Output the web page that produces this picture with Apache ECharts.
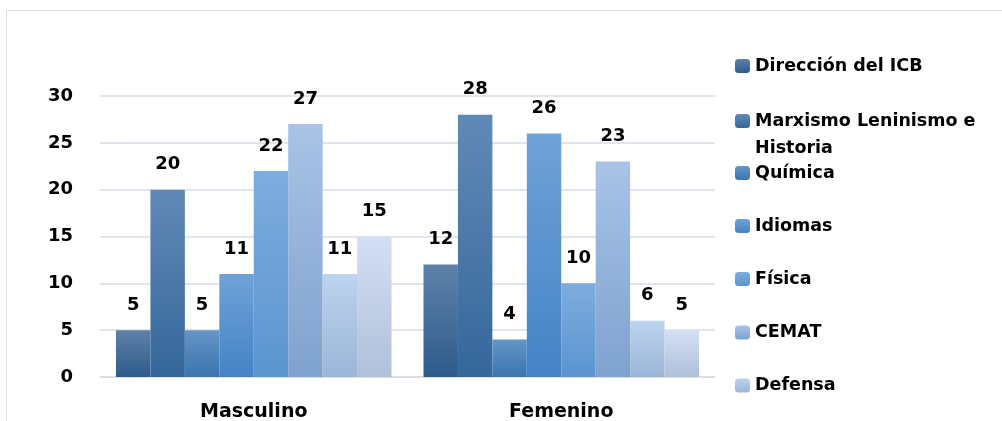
<!DOCTYPE html>
<html>
<head>
<meta charset="utf-8">
<script src="https://cdn.jsdelivr.net/npm/echarts@6/dist/echarts.min.js"></script>
<style>
  html, body { margin: 0; padding: 0; background: #fff; }
  #chart { width: 1002px; height: 421px; }
</style>
</head>
<body>
<div id="chart"></div>
<script>
// Categories on the x axis
const categories = ['Masculino', 'Femenino'];

// One series per department: [Masculino, Femenino]
const seriesNames = [
  'Dirección del ICB',
  'Marxismo Leninismo e Historia',
  'Química',
  'Idiomas',
  'Física',
  'CEMAT',
  'Defensa',
  'Otras áreas'
];
const direccionICB = [5, 12];
const marxismo     = [20, 28];
const quimica      = [5, 4];
const idiomas      = [11, 26];
const fisica       = [22, 10];
const cemat        = [27, 23];
const defensa      = [11, 6];
const otras        = [15, 5];
const seriesValues = [direccionICB, marxismo, quimica, idiomas, fisica, cemat, defensa, otras];

// Y axis ticks
const yTicks = [0, 5, 10, 15, 20, 25, 30];

// Gradient colours per series, top -> bottom
const barColors = [
  ['#5f81a9', '#2d5b8b'],
  ['#6189b6', '#35679b'],
  ['#6595c6', '#3a75b0'],
  ['#6fa2d7', '#4483c6'],
  ['#7eacdf', '#5b95cf'],
  ['#a8c3e6', '#7fa2cf'],
  ['#bdd3ee', '#9bb6d8'],
  ['#d3dff4', '#b0c0da']
];

// Vertical centre of each legend entry (first 7 series)
const legendCenters = [66, 121, 173, 226, 279, 332.5, 385.5];
// The long legend name wraps after this many words
const wrapAfter = 3;

const FONT = '"DejaVu Sans", sans-serif';
const LEGEND_FONT = { color: '#000', fontFamily: FONT, fontWeight: 'bold', fontSize: 17.5 };

function grad(c) {
  return new echarts.graphic.LinearGradient(0, 0, 0, 1, [
    { offset: 0, color: c[0] },
    { offset: 1, color: c[1] }
  ]);
}

const series = seriesNames.map((name, i) => ({
  name: name,
  type: 'bar',
  data: seriesValues[i],
  barGap: '0%',
  barCategoryGap: '10.4%',
  itemStyle: { color: grad(barColors[i]), borderWidth: 0 },
  label: {
    show: true,
    position: 'top',
    distance: 16,
    color: '#000',
    fontFamily: FONT,
    fontWeight: 'bold',
    fontSize: 18
  }
}));

// Each legend entry is placed on its own row; long names keep only
// their first line in the entry and continue on a text line below.
const continuation = [];
const legends = legendCenters.map((c, i) => {
  const words = seriesNames[i].split(' ');
  const wraps = words.length > wrapAfter;
  if (wraps) {
    continuation.push({
      type: 'text',
      left: 755,
      top: c + 27 - 10,
      style: { text: words.slice(wrapAfter).join(' '), fill: '#000',
        font: 'bold 17.5px ' + FONT, lineHeight: 20 }
    });
  }
  return {
    data: [seriesNames[i]],
    orient: 'vertical',
    left: 735,
    top: c - 10,
    padding: 0,
    itemWidth: 15,
    itemHeight: 14,
    selectedMode: false,
    formatter: wraps ? () => words.slice(0, wrapAfter).join(' ') : '{name}',
    textStyle: Object.assign({ lineHeight: 20 }, LEGEND_FONT)
  };
});

const chart = echarts.init(document.getElementById('chart'), null, { renderer: 'canvas' });
chart.setOption({
  backgroundColor: '#fff',
  animation: false,
  graphic: [{
    type: 'rect',
    shape: { x: 6.5, y: 10.5, width: 1010, height: 430 },
    style: { fill: 'none', stroke: '#dcdfe5', lineWidth: 1 },
    z: -1
  }].concat(continuation),
  legend: legends,
  grid: {
    left: 100, right: 287, top: 96, bottom: 44,
    containLabel: false,
    outerBoundsMode: 'none'
  },
  xAxis: {
    type: 'category',
    data: categories,
    axisTick: { show: false },
    axisLine: { show: true, lineStyle: { color: '#d9dde5', width: 1.5 } },
    axisLabel: {
      margin: 26,
      color: '#000',
      fontFamily: FONT,
      fontWeight: 'bold',
      fontSize: 19
    }
  },
  yAxis: {
    type: 'value',
    min: yTicks[0],
    max: yTicks[yTicks.length - 1],
    interval: yTicks[1] - yTicks[0],
    axisLine: { show: false },
    axisTick: { show: false },
    splitLine: { lineStyle: { color: '#d9dde5', width: 1.5 } },
    axisLabel: {
      margin: 27,
      color: '#000',
      fontFamily: FONT,
      fontWeight: 'bold',
      fontSize: 18
    }
  },
  series: series
});
</script>
</body>
</html>
